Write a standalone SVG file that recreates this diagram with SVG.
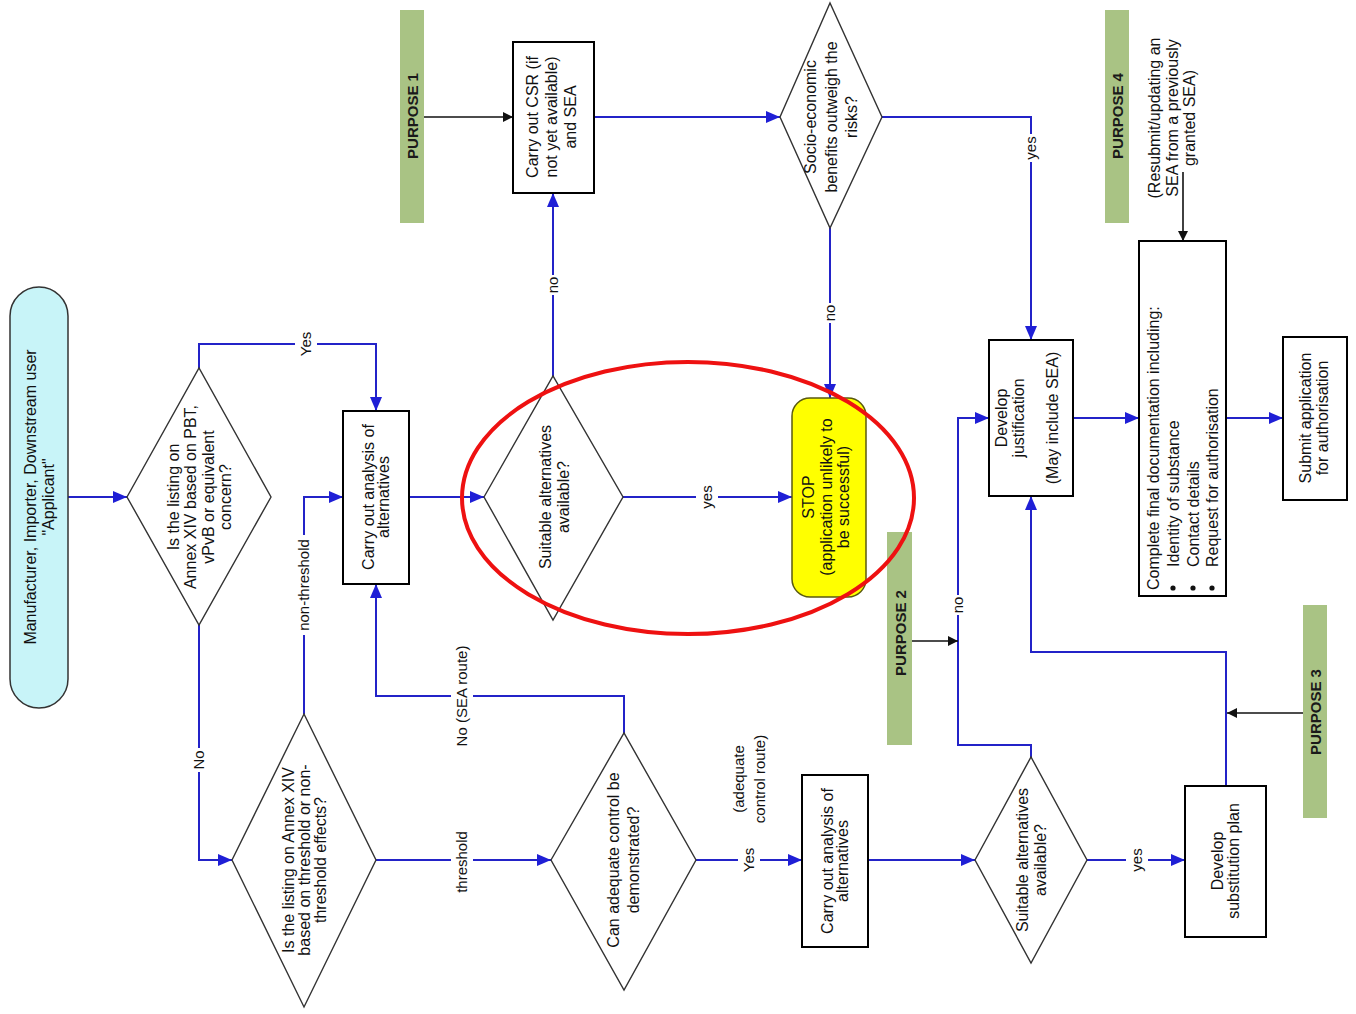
<svg xmlns="http://www.w3.org/2000/svg" width="1356" height="1014" viewBox="0 0 1356 1014">
<style>
text{font-family:"Liberation Sans",Arial,sans-serif;font-size:16px;fill:#111;}
.c{text-anchor:middle;}
.lbl{font-size:15px;text-anchor:middle;}
.pur{font-size:15px;font-weight:bold;text-anchor:middle;fill:#1a1a1a;}
.box{fill:#fff;stroke:#000;stroke-width:2;}
.dia{fill:#fff;stroke:#333;stroke-width:1.4;}
.bar{fill:#a9c384;}
.cn{fill:none;stroke:#2323c8;stroke-width:2;}
.bk{fill:none;stroke:#111;stroke-width:1.6;}
.bg{fill:#fff;}
</style>
<defs>
<marker id="ab" viewBox="0 0 14 12" refX="14" refY="6" markerWidth="14" markerHeight="12" markerUnits="userSpaceOnUse" orient="auto"><path d="M0,0 L14,6 L0,12 z" fill="#1f1fd6"/></marker>
<marker id="ak" viewBox="0 0 10 10" refX="10" refY="5" markerWidth="10" markerHeight="10" markerUnits="userSpaceOnUse" orient="auto"><path d="M0,0 L10,5 L0,10 z" fill="#111"/></marker>
</defs>
<rect width="1356" height="1014" fill="#fff"/>

<g id="connectors">
<path class="cn" d="M68,497 H127" marker-end="url(#ab)"/>
<path class="cn" d="M199,368 V344 H376 V411" marker-end="url(#ab)"/>
<path class="cn" d="M199,625 V860 H232" marker-end="url(#ab)"/>
<path class="cn" d="M304,714 V497 H343" marker-end="url(#ab)"/>
<path class="cn" d="M376,860 H551" marker-end="url(#ab)"/>
<path class="cn" d="M624,733 V696 H376 V584" marker-end="url(#ab)"/>
<path class="cn" d="M409,497 H484" marker-end="url(#ab)"/>
<path class="cn" d="M553,376 V193" marker-end="url(#ab)"/>
<path class="cn" d="M623,497 H792" marker-end="url(#ab)"/>
<path class="cn" d="M594,117 H780" marker-end="url(#ab)"/>
<path class="cn" d="M830,228 V398" marker-end="url(#ab)"/>
<path class="cn" d="M882,117 H1031 V340" marker-end="url(#ab)"/>
<path class="cn" d="M696,860 H802" marker-end="url(#ab)"/>
<path class="cn" d="M868,860 H975" marker-end="url(#ab)"/>
<path class="cn" d="M1031,757 V745 H958 V418 H989" marker-end="url(#ab)"/>
<path class="cn" d="M1087,860 H1185" marker-end="url(#ab)"/>
<path class="cn" d="M1226,786 V652 H1031 V496" marker-end="url(#ab)"/>
<path class="cn" d="M1073,418 H1139" marker-end="url(#ab)"/>
<path class="cn" d="M1226,418 H1283" marker-end="url(#ab)"/>
<path class="bk" d="M424,117 H513" marker-end="url(#ak)"/>
<path class="bk" d="M912,641 H958" marker-end="url(#ak)"/>
<path class="bk" d="M1303,713 H1227" marker-end="url(#ak)"/>
<path class="bk" d="M1183,172 V241" marker-end="url(#ak)"/>

<g transform="translate(306,344) rotate(-90)"><rect class="bg" x="-14" y="-11" width="28" height="22"/><text class="lbl" y="5">Yes</text></g>
<g transform="translate(199,760) rotate(-90)"><rect class="bg" x="-12" y="-9" width="24" height="18"/><text class="lbl" y="5">No</text></g>
<g transform="translate(304,585) rotate(-90)"><rect class="bg" x="-50" y="-9" width="100" height="18"/><text class="lbl" y="5">non-threshold</text></g>
<g transform="translate(462,862) rotate(-90)"><rect class="bg" x="-35" y="-11" width="70" height="22"/><text class="lbl" y="5">threshold</text></g>
<g transform="translate(462,696) rotate(-90)"><rect class="bg" x="-53" y="-11" width="106" height="22"/><text class="lbl" y="5">No (SEA route)</text></g>
<g transform="translate(553,285) rotate(-90)"><rect class="bg" x="-10" y="-9" width="20" height="18"/><text class="lbl" y="5">no</text></g>
<g transform="translate(707,497) rotate(-90)"><rect class="bg" x="-14" y="-11" width="28" height="22"/><text class="lbl" y="5">yes</text></g>
<g transform="translate(830,313) rotate(-90)"><rect class="bg" x="-10" y="-9" width="20" height="18"/><text class="lbl" y="5">no</text></g>
<g transform="translate(1031,148) rotate(-90)"><rect class="bg" x="-14" y="-9" width="28" height="18"/><text class="lbl" y="5">yes</text></g>
<g transform="translate(749,860) rotate(-90)"><rect class="bg" x="-14" y="-11" width="28" height="22"/><text class="lbl" y="5">Yes</text></g>
<g transform="translate(749,779) rotate(-90)"><text class="lbl"><tspan x="0" y="-5">(adequate</tspan><tspan x="0" y="16">control route)</tspan></text></g>
<g transform="translate(958,605) rotate(-90)"><rect class="bg" x="-10" y="-9" width="20" height="18"/><text class="lbl" y="5">no</text></g>
<g transform="translate(1137,860) rotate(-90)"><rect class="bg" x="-14" y="-11" width="28" height="22"/><text class="lbl" y="5">yes</text></g>
</g>

<g id="applicant">
<rect x="10" y="287" width="58" height="421" rx="29" ry="29" fill="#c8f4f8" stroke="#333" stroke-width="1.5"/>
<g transform="translate(39,497) rotate(-90)"><text class="c"><tspan x="0" y="-3.5">Manufacturer, Importer, Downstream user</tspan><tspan x="0" y="14.5">"Applicant"</tspan></text></g>
</g>

<g id="q-pbt">
<polygon class="dia" points="127,497 199,368 271,497 199,625"/>
<g transform="translate(199,497) rotate(-90)"><text class="c"><tspan x="0" y="-20.5">Is the listing on</tspan><tspan x="0" y="-3">Annex XIV based on PBT,</tspan><tspan x="0" y="14.5">vPvB or equivalent</tspan><tspan x="0" y="32">concern?</tspan></text></g>
</g>

<g id="analysis1">
<rect class="box" x="343" y="411" width="66" height="173"/>
<g transform="translate(376,497) rotate(-90)"><text class="c"><tspan x="0" y="-2">Carry out analysis of</tspan><tspan x="0" y="13">alternatives</tspan></text></g>
</g>

<g id="q-threshold">
<polygon class="dia" points="232,860 304,714 376,860 304,1007"/>
<g transform="translate(304,860) rotate(-90)"><text class="c"><tspan x="0" y="-10.5">Is the listing on Annex XIV</tspan><tspan x="0" y="5.5">based on threshold or non-</tspan><tspan x="0" y="21.5">threshold effects?</tspan></text></g>
</g>

<g id="q-suitable1">
<polygon class="dia" points="484,497 553,376 623,497 553,620"/>
<g transform="translate(554,497) rotate(-90)"><text class="c"><tspan x="0" y="-3.5">Suitable alternatives</tspan><tspan x="0" y="14.5">available?</tspan></text></g>
</g>

<g id="stop">
<rect x="792" y="398" width="74" height="199" rx="18" ry="18" fill="#ffff00" stroke="#5a5a10" stroke-width="1.5"/>
<g transform="translate(826,497) rotate(-90)"><text class="c"><tspan x="0" y="-12">STOP</tspan><tspan x="0" y="5.5">(application unlikely to</tspan><tspan x="0" y="23">be successful)</tspan></text></g>
</g>

<g id="csr">
<rect class="box" x="513" y="42" width="81" height="151"/>
<g transform="translate(551,117) rotate(-90)"><text class="c"><tspan x="0" y="-13.5">Carry out CSR (if</tspan><tspan x="0" y="5.5">not yet available)</tspan><tspan x="0" y="24.5">and SEA</tspan></text></g>
</g>

<g id="q-socio">
<polygon class="dia" points="780,117 830,3 882,117 830,228"/>
<g transform="translate(831,117) rotate(-90)"><text class="c"><tspan x="0" y="-15">Socio-economic</tspan><tspan x="0" y="5.5">benefits outweigh the</tspan><tspan x="0" y="26">risks?</tspan></text></g>
</g>

<g id="purpose1">
<rect class="bar" x="400" y="10" width="24" height="213"/>
<g transform="translate(412,116) rotate(-90)"><text class="pur" y="5.5">PURPOSE 1</text></g>
</g>

<g id="justification">
<rect class="box" x="989" y="340" width="84" height="156"/>
<g transform="translate(1027,418) rotate(-90)"><text class="c"><tspan x="0" y="-20">Develop</tspan><tspan x="0" y="-3">justification</tspan><tspan x="0" y="31">(May include SEA)</tspan></text></g>
</g>

<g id="final-doc">
<rect class="box" x="1139" y="241" width="87" height="355"/>
<g transform="translate(1182,588) rotate(-90)"><text><tspan x="-2" y="-23.5">Complete final documentation including:</tspan><tspan x="21" y="-3.5">Identity of substance</tspan><tspan x="21" y="16.5">Contact details</tspan><tspan x="21" y="35.5">Request for authorisation</tspan></text></g>
<circle cx="1173" cy="588" r="2.6" fill="#111"/>
<circle cx="1193" cy="588" r="2.6" fill="#111"/>
<circle cx="1212" cy="588" r="2.6" fill="#111"/>
</g>

<g id="submit">
<rect class="box" x="1283" y="337" width="64" height="163"/>
<g transform="translate(1314,418) rotate(-90)"><text class="c"><tspan x="0" y="-3">Submit application</tspan><tspan x="0" y="14">for authorisation</tspan></text></g>
</g>

<g id="purpose4">
<rect class="bar" x="1105" y="10" width="24" height="213"/>
<g transform="translate(1117,116) rotate(-90)"><text class="pur" y="5.5">PURPOSE 4</text></g>
<g transform="translate(1172,118) rotate(-90)"><text class="c"><tspan x="0" y="-12">(Resubmit/updating an</tspan><tspan x="0" y="5.5">SEA from a previously</tspan><tspan x="0" y="23">granted SEA)</tspan></text></g>
</g>

<g id="q-adequate">
<polygon class="dia" points="551,860 624,733 696,860 624,990"/>
<g transform="translate(623,860) rotate(-90)"><text class="c"><tspan x="0" y="-4.5">Can adequate control be</tspan><tspan x="0" y="15.5">demonstrated?</tspan></text></g>
</g>

<g id="analysis2">
<rect class="box" x="802" y="775" width="66" height="172"/>
<g transform="translate(835,861) rotate(-90)"><text class="c"><tspan x="0" y="-2">Carry out analysis of</tspan><tspan x="0" y="13">alternatives</tspan></text></g>
</g>

<g id="q-suitable2">
<polygon class="dia" points="975,860 1031,757 1087,860 1031,963"/>
<g transform="translate(1031,860) rotate(-90)"><text class="c"><tspan x="0" y="-3.5">Suitable alternatives</tspan><tspan x="0" y="14.5">available?</tspan></text></g>
</g>

<g id="substitution">
<rect class="box" x="1185" y="786" width="81" height="151"/>
<g transform="translate(1225,861) rotate(-90)"><text class="c"><tspan x="0" y="-2.5">Develop</tspan><tspan x="0" y="13.5">substitution plan</tspan></text></g>
</g>

<g id="purpose2">
<rect class="bar" x="887" y="532" width="25" height="213"/>
<g transform="translate(900,633) rotate(-90)"><text class="pur" y="5.5">PURPOSE 2</text></g>
</g>

<g id="purpose3">
<rect class="bar" x="1303" y="605" width="24" height="213"/>
<g transform="translate(1315,712) rotate(-90)"><text class="pur" y="5.5">PURPOSE 3</text></g>
</g>

<g id="highlight">
<ellipse cx="688" cy="498" rx="226" ry="136" fill="none" stroke="#ee1111" stroke-width="4"/>
</g>
</svg>
